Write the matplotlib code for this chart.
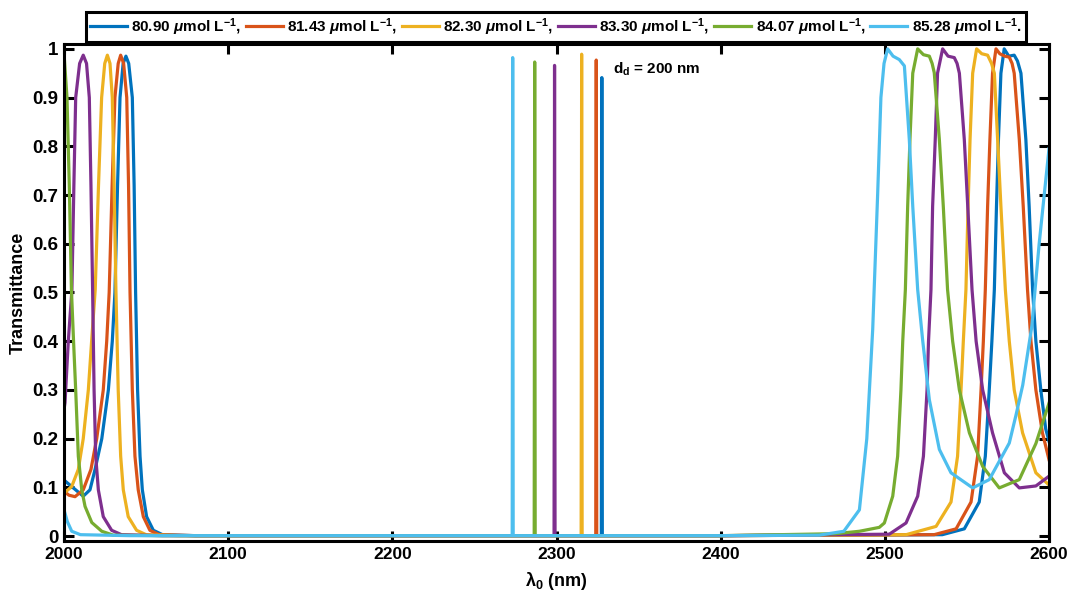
# transmittance spectra for six concentrations, d_d = 200 nm
import matplotlib
matplotlib.use('Agg')
from matplotlib import pyplot as plt

plt.rcParams['font.family'] = 'Liberation Sans'
plt.rcParams['font.weight'] = 'bold'
plt.rcParams['axes.labelweight'] = 'bold'
plt.rcParams['mathtext.fontset'] = 'custom'
plt.rcParams['mathtext.rm'] = 'Liberation Sans:bold'
plt.rcParams['mathtext.bf'] = 'Liberation Sans:bold'
plt.rcParams['mathtext.it'] = 'Liberation Sans:italic'

# values: wavelength (nm) and transmittance
lam_8090 = [2000, 2006, 2011.7, 2015.8, 2018.9, 2023, 2027, 2029.4, 2031, 2032.6, 2034.1, 2036, 2037.7,
            2039.4, 2041.6, 2042.7, 2043.6, 2044.8, 2046.3, 2047.7, 2050.3, 2054.4, 2060, 2080,
            2327.3, 2327.6, 2327.9, 2400, 2535, 2548.4, 2557.5, 2561.2, 2563.6, 2565.2, 2566.7,
            2568, 2569.2, 2570.7, 2572.7, 2575.5, 2578.8, 2580.8, 2582.9, 2585.9, 2587.9, 2590,
            2592, 2595, 2598, 2600]
T_8090 = [0.115, 0.098, 0.082, 0.095, 0.137, 0.20, 0.30, 0.40, 0.50, 0.72, 0.90, 0.97, 0.985,
          0.97, 0.90, 0.72, 0.50, 0.30, 0.164, 0.095, 0.04, 0.012, 0.003, 0.001,
          0.001, 0.941, 0.001, 0.001, 0.003, 0.015, 0.07, 0.164, 0.30, 0.40, 0.506,
          0.677, 0.814, 0.95, 1.0, 0.985, 0.987, 0.975, 0.95, 0.814, 0.677, 0.506,
          0.40, 0.30, 0.22, 0.195]

lam_8143 = [2000, 2003, 2006.7, 2011.7, 2016.4, 2019.9, 2023.9, 2026, 2027.5, 2029.3, 2031, 2033, 2034.5,
            2036.3, 2038.2, 2039.3, 2040.2, 2041.6, 2043.2, 2045.2, 2048.3, 2052.3, 2058, 2080,
            2323.9, 2324.2, 2324.5, 2400, 2530, 2543.4, 2552.5, 2556.5, 2558.6, 2560, 2561.2,
            2562.6, 2564, 2565.6, 2567.7, 2570, 2573, 2575.8, 2577.5, 2578.8, 2581.9, 2584.3,
            2586.9, 2589, 2592, 2596, 2600]
T_8143 = [0.092, 0.084, 0.081, 0.095, 0.137, 0.20, 0.30, 0.40, 0.50, 0.72, 0.90, 0.97, 0.987,
          0.97, 0.90, 0.72, 0.50, 0.30, 0.164, 0.095, 0.04, 0.012, 0.003, 0.001,
          0.001, 0.977, 0.001, 0.001, 0.003, 0.015, 0.07, 0.164, 0.30, 0.40, 0.506,
          0.677, 0.814, 0.95, 1.0, 0.99, 0.985, 0.983, 0.97, 0.95, 0.814, 0.677,
          0.506, 0.40, 0.30, 0.212, 0.157]

lam_8230 = [2000, 2004.7, 2008.7, 2011.7, 2014.8, 2016.8, 2019, 2021, 2022.9, 2024.8, 2026.4, 2028,
            2029.4, 2030.5, 2031.6, 2033, 2034.5, 2036.1, 2039.1, 2044.2, 2050, 2070,
            2315.0, 2315.3, 2315.6, 2400, 2512.9, 2531.2, 2540.3, 2544.3, 2546.4, 2547.8, 2549.4,
            2550.7, 2551.9, 2553.5, 2555.9, 2559, 2562.6, 2565, 2566.7, 2568.7, 2570.7, 2573.4,
            2575.8, 2578.8, 2583.9, 2592, 2600]
T_8230 = [0.088, 0.102, 0.137, 0.20, 0.30, 0.40, 0.506, 0.72, 0.90, 0.97, 0.987, 0.97,
          0.90, 0.72, 0.506, 0.30, 0.164, 0.095, 0.04, 0.012, 0.003, 0.001,
          0.001, 0.989, 0.001, 0.001, 0.003, 0.02, 0.07, 0.164, 0.30, 0.40, 0.506,
          0.677, 0.814, 0.95, 1.0, 0.99, 0.987, 0.97, 0.95, 0.814, 0.677, 0.506,
          0.40, 0.30, 0.212, 0.13, 0.105]

lam_8330 = [2000, 2000.6, 2002.6, 2004.8, 2006, 2007.1, 2009.5, 2011.7, 2013.7, 2015.4, 2016.4, 2017.4,
            2018.3, 2019.3, 2020.9, 2023.9, 2029, 2035, 2060,
            2298.5, 2298.8, 2299.1, 2400, 2502.7, 2512.9, 2520, 2523.5, 2525.7, 2526.6, 2528.1,
            2529.1, 2530.7, 2532.1, 2535.2, 2538.5, 2542.3, 2544, 2545.4, 2548.4, 2550.5, 2553.1,
            2555.6, 2559.6, 2565.6, 2572.8, 2581.9, 2592, 2600]
T_8330 = [0.26, 0.274, 0.40, 0.506, 0.72, 0.90, 0.97, 0.987, 0.97, 0.90, 0.72, 0.506,
          0.30, 0.164, 0.095, 0.04, 0.012, 0.003, 0.001,
          0.001, 0.966, 0.001, 0.001, 0.004, 0.027, 0.082, 0.164, 0.30, 0.40, 0.506,
          0.677, 0.814, 0.95, 1.0, 0.985, 0.982, 0.97, 0.95, 0.814, 0.677, 0.506,
          0.40, 0.30, 0.212, 0.13, 0.099, 0.103, 0.123]

lam_8407 = [2000, 2001.8, 2003.2, 2004.5, 2005.8, 2007.1, 2008.7, 2010.8, 2012.8, 2016.9, 2023, 2030, 2060,
            2286.4, 2286.7, 2287.0, 2400, 2470, 2484.5, 2496.6, 2499.7, 2504.8, 2507.8, 2509.8,
            2510.9, 2512.5, 2513.9, 2515.3, 2517, 2520, 2523.5, 2527.1, 2528.8, 2530.1, 2533.2,
            2535.6, 2538.2, 2541.3, 2545.4, 2551.5, 2559.6, 2569.7, 2581.9, 2592, 2600]
T_8407 = [0.99, 0.90, 0.72, 0.506, 0.40, 0.30, 0.164, 0.095, 0.061, 0.028, 0.01, 0.002, 0.001,
          0.001, 0.973, 0.001, 0.001, 0.005, 0.01, 0.018, 0.027, 0.082, 0.164, 0.30,
          0.40, 0.506, 0.677, 0.814, 0.95, 1.0, 0.988, 0.985, 0.97, 0.951, 0.814,
          0.677, 0.506, 0.40, 0.30, 0.212, 0.143, 0.099, 0.116, 0.19, 0.273]

lam_8528 = [2000, 2002, 2004.7, 2010, 2040,
            2273.0, 2273.3, 2273.6, 2400, 2460, 2475, 2484.5, 2489, 2492.6, 2495.6, 2497.6,
            2499.5, 2501.7, 2505, 2508.8, 2511.9, 2514.9, 2517, 2520, 2523, 2527.1, 2533.2,
            2540.3, 2553.5, 2563.6, 2575.8, 2580, 2584, 2589.5, 2594, 2600]
T_8528 = [0.054, 0.03, 0.01, 0.003, 0.001,
          0.001, 0.982, 0.001, 0.001, 0.002, 0.01, 0.054, 0.2, 0.424, 0.70, 0.90,
          0.97, 1.0, 0.985, 0.978, 0.965, 0.814, 0.677, 0.506, 0.403, 0.28, 0.178,
          0.13, 0.099, 0.116, 0.191, 0.25, 0.31, 0.43, 0.60, 0.795]

labels = [r'80.90 $\mathit{\mu}$mol L$^{-1}$,', r'81.43 $\mathit{\mu}$mol L$^{-1}$,',
          r'82.30 $\mathit{\mu}$mol L$^{-1}$,', r'83.30 $\mathit{\mu}$mol L$^{-1}$,',
          r'84.07 $\mathit{\mu}$mol L$^{-1}$,', r'85.28 $\mathit{\mu}$mol L$^{-1}$.']
colors = ['#0072BD', '#D95319', '#EDB120', '#7E2F8E', '#77AC30', '#4DBEEE']
lams = [lam_8090, lam_8143, lam_8230, lam_8330, lam_8407, lam_8528]
Ts = [T_8090, T_8143, T_8230, T_8330, T_8407, T_8528]

fig = plt.figure(figsize=(10.69, 6), dpi=100)
ax = fig.add_axes([0.0599, 0.0983, 0.9214, 0.8284])

for lam, T, c, lab in zip(lams, Ts, colors, labels):
    ax.plot(lam, T, '-', color=c, lw=2.3, label=lab)

ax.set_xlim(2000, 2600)
ax.set_ylim(-0.01, 1.01)
ax.set_xticks(range(2000, 2601, 100))
ax.set_yticks([0, 0.1, 0.2, 0.3, 0.4, 0.5, 0.6, 0.7, 0.8, 0.9, 1])
ax.set_yticklabels(['0', '0.1', '0.2', '0.3', '0.4', '0.5', '0.6', '0.7', '0.8', '0.9', '1'])
ax.tick_params(direction='in', top=True, right=True, length=7, width=2.2, pad=4)
ax.tick_params(axis='x', labelsize=12.5)
ax.tick_params(axis='y', labelsize=13.5)
for s in ax.spines.values():
    s.set_linewidth(2.2)

ax.set_xlabel(r'$\mathrm{\lambda}_\mathrm{0}$ (nm)', fontsize=13, labelpad=6)
ax.set_ylabel('Transmittance', fontsize=13, labelpad=4)
ax.text(2334.5, 0.958, r'd$_\mathregular{d}$ = 200 nm', fontsize=11, ha='left', va='center')

leg = fig.legend(loc='center', bbox_to_anchor=(0.52, 0.955), ncol=6, fontsize=11,
                 frameon=True, fancybox=False, edgecolor='black', framealpha=1,
                 handlelength=2.4, handletextpad=0.3, columnspacing=0.3,
                 borderpad=0.25, borderaxespad=0)
leg.get_frame().set_linewidth(2.2)

plt.savefig('out.png', dpi=100)
